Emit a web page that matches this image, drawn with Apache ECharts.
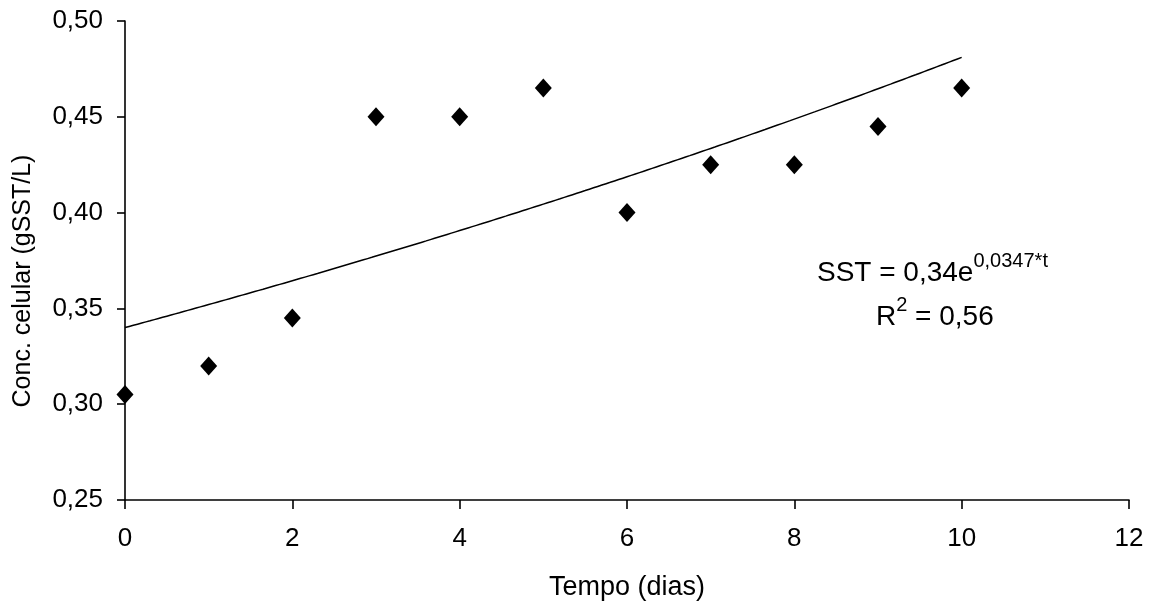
<!DOCTYPE html>
<html>
<head>
<meta charset="utf-8">
<script src="https://cdn.jsdelivr.net/npm/echarts@6/dist/echarts.min.js"></script>
<style>
  html, body { margin: 0; padding: 0; background: #fff; }
  #chart { width: 1155px; height: 606px; }
</style>
</head>
<body>
<div id="chart"></div>
<script>
// Measured cell concentration per day
const days = [0, 1, 2, 3, 4, 5, 6, 7, 8, 9, 10];
const concentration = [0.305, 0.32, 0.345, 0.45, 0.45, 0.465, 0.40, 0.425, 0.425, 0.445, 0.465];

// Exponential fit SST = a * e^(b*t), as stated in the annotation
const fitA = 0.34;
const fitB = 0.0347;
const fitR2 = 0.56;
const fitRange = [0, 10];

// Axis ticks
const xTicks = [0, 2, 4, 6, 8, 10, 12];
const yTicks = [0.25, 0.30, 0.35, 0.40, 0.45, 0.50];

const FONT = '"Liberation Sans", Arial, sans-serif';
const fmt = (v, d) => v.toFixed(d).replace('.', ',');

const points = days.map((d, i) => [d, concentration[i]]);

// Fitted curve sampled over the fit range
const curve = [];
const steps = 200;
for (let k = 0; k <= steps; k++) {
  const t = fitRange[0] + (fitRange[1] - fitRange[0]) * k / steps;
  curve.push([t, fitA * Math.exp(fitB * t)]);
}

const chart = echarts.init(document.getElementById('chart'), null, { renderer: 'canvas' });

chart.setOption({
  backgroundColor: '#ffffff',
  animation: false,
  grid: { left: 125, right: 26, top: 21, bottom: 104, containLabel: false },
  xAxis: {
    type: 'value',
    min: xTicks[0],
    max: xTicks[xTicks.length - 1],
    interval: xTicks[1] - xTicks[0],
    name: 'Tempo (dias)',
    nameLocation: 'middle',
    nameGap: 74,
    nameTextStyle: { fontFamily: FONT, fontSize: 27, color: '#000' },
    axisLine: { onZero: false, lineStyle: { color: '#000', width: 1.6 } },
    axisTick: { show: true, length: 9, lineStyle: { color: '#000', width: 1.6 } },
    axisLabel: { fontFamily: FONT, fontSize: 26, color: '#000', margin: 26 },
    splitLine: { show: false }
  },
  yAxis: {
    type: 'value',
    min: yTicks[0],
    max: yTicks[yTicks.length - 1],
    interval: 0.05,
    axisLine: { show: true, onZero: false, lineStyle: { color: '#000', width: 1.6 } },
    axisTick: { show: true, length: 8, lineStyle: { color: '#000', width: 1.6 } },
    axisLabel: {
      fontFamily: FONT, fontSize: 26, color: '#000', margin: 22,
      formatter: v => fmt(v, 2)
    },
    splitLine: { show: false }
  },
  graphic: [
    {
      type: 'text',
      x: 23, y: 281,
      rotation: Math.PI / 2,
      style: {
        text: 'Conc. celular (gSST/L)',
        font: '25px ' + FONT,
        fill: '#000',
        align: 'center',
        verticalAlign: 'middle'
      }
    },
    {
      type: 'text',
      left: 817, top: 251,
      style: {
        text: '{m|SST = ' + fmt(fitA, 2) + 'e}{s|' + fmt(fitB, 4) + '*t}',
        rich: {
          m: { font: '28px ' + FONT, fill: '#000', verticalAlign: 'bottom', lineHeight: 36 },
          s: { font: '20px ' + FONT, fill: '#000', verticalAlign: 'top', lineHeight: 36 }
        }
      }
    },
    {
      type: 'text',
      left: 876, top: 295,
      style: {
        text: '{m|R}{s|2}{m| = ' + fmt(fitR2, 2) + '}',
        rich: {
          m: { font: '28px ' + FONT, fill: '#000', verticalAlign: 'bottom', lineHeight: 36 },
          s: { font: '20px ' + FONT, fill: '#000', verticalAlign: 'top', lineHeight: 36 }
        }
      }
    }
  ],
  series: [
    {
      name: 'Ajuste',
      type: 'line',
      data: curve,
      showSymbol: false,
      smooth: false,
      lineStyle: { color: '#000', width: 1.5 },
      z: 2
    },
    {
      name: 'SST',
      type: 'scatter',
      data: points,
      symbol: 'diamond',
      symbolSize: [17, 19],
      itemStyle: { color: '#000', opacity: 1 },
      z: 3
    }
  ]
});
</script>
</body>
</html>
